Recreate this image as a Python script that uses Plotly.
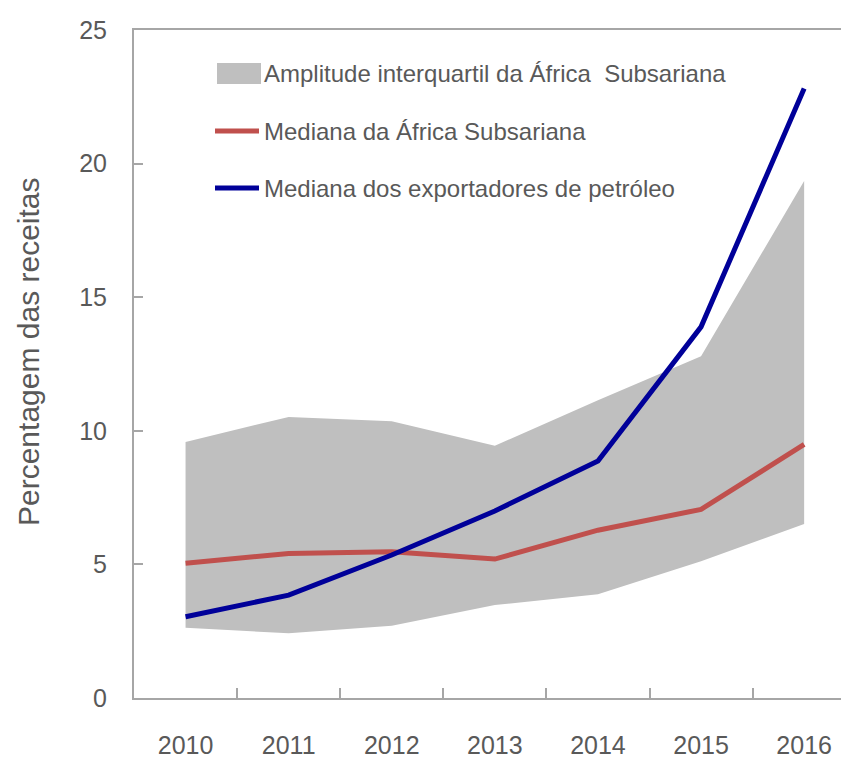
import plotly.graph_objects as go

years = ["2010", "2011", "2012", "2013", "2014", "2015", "2016"]
iqr_lower = [2.63, 2.42, 2.70, 3.48, 3.88, 5.12, 6.51]
iqr_upper = [9.58, 10.52, 10.36, 9.44, 11.14, 12.79, 19.35]
median_ssa = [5.04, 5.41, 5.47, 5.20, 6.28, 7.06, 9.49]
median_oil = [3.04, 3.85, 5.35, 7.00, 8.87, 13.89, 22.81]

legend_labels = [
    "Amplitude interquartil da África  Subsariana",
    "Mediana da África Subsariana",
    "Mediana dos exportadores de petróleo",
]
y_title = "Percentagem das receitas"
y_ticks = [0, 5, 10, 15, 20, 25]

GRAY = "#BFBFBF"
RED = "#C0504D"
BLUE = "#000099"
TEXT = "#595959"
AXIS = "#A6A6A6"
FONT = "Liberation Sans, Arial, sans-serif"

fig = go.Figure()
fig.add_trace(go.Scatter(x=years, y=iqr_lower, mode="lines", line=dict(width=0, color=GRAY),
                         showlegend=False, hoverinfo="skip"))
fig.add_trace(go.Scatter(x=years, y=iqr_upper, mode="lines", line=dict(width=0, color=GRAY),
                         fill="tonexty", fillcolor=GRAY, name=legend_labels[0], showlegend=False))
fig.add_trace(go.Scatter(x=years, y=median_ssa, mode="lines", line=dict(width=5, color=RED),
                         name=legend_labels[1], showlegend=False))
fig.add_trace(go.Scatter(x=years, y=median_oil, mode="lines", line=dict(width=5, color=BLUE),
                         name=legend_labels[2], showlegend=False))

L, R, T, B = 134, 0, 30, 62
W, H = 841, 760
pw, ph = W - L - R, H - T - B

def px(x):
    return (x - L) / pw

def py(y):
    return (H - B - y) / ph

shapes = [
    dict(type="rect", xref="paper", yref="paper", x0=px(217), x1=px(261), y0=py(84), y1=py(63),
         fillcolor=GRAY, line=dict(width=0)),
    dict(type="line", xref="paper", yref="paper", x0=px(215), x1=px(259), y0=py(131), y1=py(131),
         line=dict(color=RED, width=5)),
    dict(type="line", xref="paper", yref="paper", x0=px(215), x1=px(259), y0=py(188), y1=py(188),
         line=dict(color=BLUE, width=5)),
]
annotations = []
for lab, yy in zip(legend_labels, [73.5, 131, 188]):
    annotations.append(dict(text=lab, xref="paper", yref="paper", x=px(262), y=py(yy),
                            xanchor="left", yanchor="middle", showarrow=False,
                            font=dict(family=FONT, size=24, color=TEXT)))
annotations.append(dict(text=y_title, xref="paper", yref="paper", x=px(28), y=py(352),
                        xanchor="center", yanchor="middle", textangle=-90, showarrow=False,
                        font=dict(family=FONT, size=30, color=TEXT)))

fig.update_layout(
    width=W, height=H,
    margin=dict(l=L, r=R, t=T, b=B),
    plot_bgcolor="white", paper_bgcolor="white",
    shapes=shapes, annotations=annotations,
    showlegend=False,
)
fig.update_xaxes(
    type="category", range=[-0.5, -0.5 + pw / 103.1], automargin=False,
    showline=True, linecolor=AXIS, linewidth=2, mirror=True,
    ticks="inside", ticklen=10, tickcolor=AXIS, tickwidth=2, tickson="boundaries",
    showgrid=False, zeroline=False,
    tickfont=dict(family=FONT, size=25, color=TEXT), ticklabelstandoff=24,
)
fig.update_yaxes(
    range=[0, 25], tickvals=y_ticks, automargin=False,
    showline=True, linecolor=AXIS, linewidth=2,
    ticks="inside", ticklen=9, tickcolor=AXIS, tickwidth=2,
    showgrid=False, zeroline=False,
    tickfont=dict(family=FONT, size=25, color=TEXT), ticklabelstandoff=20,
)

fig.write_html("out.html", config={"displayModeBar": False},
               post_script="document.body.style.margin='0';")
